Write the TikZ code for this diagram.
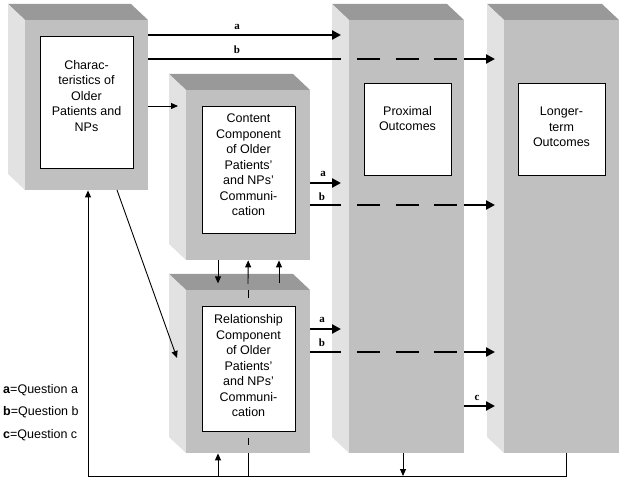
\documentclass[tikz,border=0pt]{standalone}
\usepackage{fontspec}
\setmainfont{Liberation Sans}
\newfontfamily\lblfont{Liberation Serif}
\usetikzlibrary{arrows.meta,calc}
\definecolor{frontg}{HTML}{C0C0C0}
\definecolor{topg}{HTML}{999999}
\definecolor{leftg}{HTML}{E2E2E2}
\tikzset{
  front/.style={fill=frontg, draw=none, inner sep=0pt, anchor=north west},
  whitebox/.style={fill=white, draw=black, line width=0.8pt, inner sep=0pt, anchor=north west},
  boxtext/.style={align=center, font=\fontsize{12.5}{15.5}\selectfont, inner sep=0pt},
  lbl/.style={font=\lblfont\bfseries\fontsize{11}{12}\selectfont, inner sep=0pt},
  legend/.style={font=\fontsize{12.5}{15}\selectfont, inner sep=0pt, anchor=west},
  thk/.style={line width=2.6pt, -{Triangle[length=9pt,width=9pt]}},
  thkdash/.style={line width=2.6pt, dash pattern=on 23pt off 15.5pt},
  thn/.style={line width=0.9pt},
  thnarrow/.style={line width=0.9pt, -{Triangle[length=7pt,width=6pt]}},
}
% front face with 3D top and left faces: #1 name, #2 x0, #3 y0, #4 x1, #5 y1
\newcommand{\threedbox}[5]{%
  \fill[topg] (#2-17,#3-16) -- (#4-17,#3-16) -- (#4,#3) -- (#2,#3) -- cycle;
  \fill[leftg] (#2-17,#3-16) -- (#2,#3) -- (#2,#5) -- (#2-17,#5-16) -- cycle;
  \node[front, minimum width=#4-#2, minimum height=#5-#3] (#1) at (#2,#3) {};
}
\begin{document}
\begin{tikzpicture}[x=1pt,y=-1pt]
\useasboundingbox[fill=white] (0,0) rectangle (624,481);

% boxes
\threedbox{F1}{25}{20}{148}{190}
\threedbox{F2}{186}{90}{310}{260}
\threedbox{F3}{186}{290}{310}{453}
\threedbox{F4}{349}{20}{464}{453}
\threedbox{F5}{504}{20}{619}{453}

% inner white boxes
\node[whitebox, minimum width=93, minimum height=132] (W1) at (40,36) {};
\node[whitebox, minimum width=93, minimum height=127] (W2) at (202,106) {};
\node[whitebox, minimum width=93, minimum height=125] (W3) at (202,306) {};
\node[whitebox, minimum width=87, minimum height=92] (W4) at (364,83) {};
\node[whitebox, minimum width=87, minimum height=92] (W5) at (518,83) {};

% texts
\node[boxtext] (T1) at (86.5,96) {Charac-\\teristics of\\Older\\Patients and\\NPs};
\node[boxtext] (T2) at (248.5,165) {Content\\Component\\of Older\\Patients'\\and NPs'\\Communi-\\cation};
\node[boxtext] (T3) at (248.5,366) {Relationship\\Component\\of Older\\Patients'\\and NPs'\\Communi-\\cation};
\node[boxtext] (T4) at (407.5,118.5) {Proximal\\Outcomes};
\node[boxtext] (T5) at (561.5,127) {Longer-\\term\\Outcomes};

% level coordinates
\coordinate (ya1) at (0,35);
\coordinate (yb1) at (0,59);
\coordinate (yc) at (0,106);
\coordinate (ya2) at (0,183);
\coordinate (yb2) at (0,205);
\coordinate (ya3) at (0,329);
\coordinate (yb3) at (0,352);
\coordinate (ycc) at (0,406);
\coordinate (ybot) at (0,476);

% thick arrows from box 1
\draw[thk, shorten >=8pt] (F1.east |- ya1) -- (F4.west |- ya1);
\draw[line width=2.6pt, shorten >=8pt] (F1.east |- yb1) -- (F4.west |- yb1);
\draw[thkdash, shorten <=8pt, shorten >=7pt] (F4.west |- yb1) -- (F4.east |- yb1);
\draw[thk, shorten >=9pt] (F4.east |- yb1) -- (F5.west |- yb1);
\node[lbl] (la1) at (237,27) {a};
\node[lbl] (lb1) at (237,50) {b};

% content component arrows
\draw[thk, shorten >=8pt] (F2.east |- ya2) -- (F4.west |- ya2);
\draw[line width=2.6pt, shorten >=8pt] (F2.east |- yb2) -- (F4.west |- yb2);
\draw[thkdash, shorten <=8pt, shorten >=7pt] (F4.west |- yb2) -- (F4.east |- yb2);
\draw[thk, shorten >=9pt] (F4.east |- yb2) -- (F5.west |- yb2);
\node[lbl] (la2) at (323,174) {a};
\node[lbl] (lb2) at (322,197) {b};

% relationship component arrows
\draw[thk, shorten >=8pt] (F3.east |- ya3) -- (F4.west |- ya3);
\draw[line width=2.6pt, shorten >=8pt] (F3.east |- yb3) -- (F4.west |- yb3);
\draw[thkdash, shorten <=8pt, shorten >=7pt] (F4.west |- yb3) -- (F4.east |- yb3);
\draw[thk, shorten >=9pt] (F4.east |- yb3) -- (F5.west |- yb3);
\node[lbl] (la3) at (322,320) {a};
\node[lbl] (lb3) at (322,343) {b};

% c arrow
\draw[thk, shorten >=9pt] (F4.east |- ycc) -- (F5.west |- ycc);
\node[lbl] (lc) at (477,398) {c};

% box1 -> content
\draw[thnarrow, shorten >=8pt] (F1.east |- yc) -- (F2.west |- yc);

% diagonal box1 -> relationship
\coordinate (dstart) at (117,190);
\coordinate (dend) at (177,358);
\draw[thnarrow] (dstart) -- (dend);

% between content and relationship
\coordinate (x218) at (218,0);
\coordinate (x279) at (279,0);
\draw[thnarrow] (x218 |- F2.south) -- ++(0,23);
\draw[thnarrow] (279,283) -- (x279 |- F2.south);
\draw[thnarrow] (248,284) -- (F2.south);
\draw[thn] (248,290) -- (248,298);
\draw[thn] (248,438) -- (248,445);
\draw[thn] (F3.south |- ybot) -- (F3.south);

% feedback loop
\coordinate (x566) at (566,0);
\coordinate (x403) at (403,0);
\coordinate (x88) at (88,0);
\draw[thnarrow] (x566 |- F5.south) -- (x566 |- ybot) -- (x88 |- ybot) -- (x88 |- F1.south);
\draw[thnarrow] (x403 |- F4.south) -- (x403 |- ybot);
\draw[thnarrow] (x218 |- ybot) -- (x218 |- F3.south);

% legend
\node[legend] (lg1) at (3,390) {\textbf{a}=Question a};
\node[legend] (lg2) at (3,412) {\textbf{b}=Question b};
\node[legend] (lg3) at (3,435) {\textbf{c}=Question c};
\end{tikzpicture}
\end{document}
